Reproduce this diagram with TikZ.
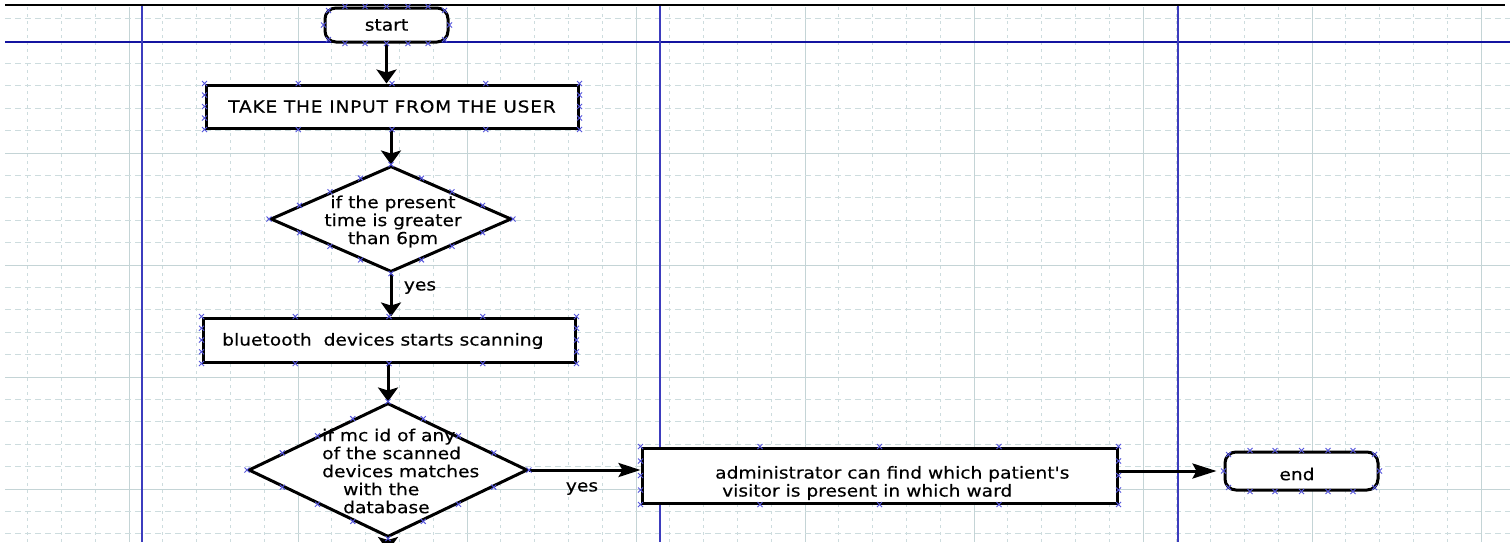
\documentclass[tikz,border=0pt]{standalone}
\usepackage{fontspec}
\usetikzlibrary{shapes.geometric, arrows.meta, calc}
\newfontfamily\flowfont{DejaVu Sans}[FakeStretch=1.13, FakeBold=0.4]

\definecolor{gridsoft}{RGB}{205,220,222}
\definecolor{gridmain}{RGB}{196,212,214}
\definecolor{lanec}{RGB}{60,60,190}
\definecolor{headc}{RGB}{20,20,160}
\definecolor{handlec}{RGB}{85,85,220}

\tikzset{
  every node/.style={font=\flowfont\fontsize{16.5}{18}\selectfont, text=black},
  flowbox/.style={draw=black, line width=3pt, fill=white, rectangle, inner sep=0pt},
  terminal/.style={flowbox, rounded corners=11pt},
  decision/.style={draw=black, line width=3pt, fill=white, diamond, inner sep=0pt},
  lbl/.style={inner sep=0pt},
  flowline/.style={line width=3pt, draw=black},
  varrow/.style={flowline, -{Stealth[length=14pt,width=20pt,inset=3pt]}},
  harrow/.style={flowline, -{Stealth[length=24pt,width=15pt,inset=4pt]}},
  griddash/.style={gridsoft, line width=0.9pt, dash pattern=on 6pt off 4pt},
  gridvdash/.style={gridsoft, line width=0.9pt, dash pattern=on 3pt off 4pt},
  gridsolid/.style={gridmain, line width=1pt},
  laneline/.style={lanec, line width=2.6pt},
  hx/.pic={\draw[handlec, line width=0.9pt] (-2.5pt,-2.5pt)--(2.5pt,2.5pt) (-2.5pt,2.5pt)--(2.5pt,-2.5pt);}
}

% selection handles on the borders of boxes and diamonds
\newcommand\boxhandles[1]{%
  \foreach \ea/\eb in {north west/north east,north east/south east,south east/south west,south west/north west}{%
    \foreach \fr in {0,0.25,0.5,0.75}{\path ($(#1.\ea)!\fr!(#1.\eb)$) pic{hx};}}}
\newcommand\diamondhandles[1]{%
  \foreach \ea/\eb in {north/east,east/south,south/west,west/north}{%
    \foreach \fr in {0,0.25,0.5,0.75}{\path ($(#1.\ea)!\fr!(#1.\eb)$) pic{hx};}}}
\newcommand\termhandles[1]{%
  \foreach \fr in {0.17,0.33,0.5,0.67,0.83}{%
    \path ($(#1.north west)!\fr!(#1.north east)$) pic{hx};
    \path ($(#1.south west)!\fr!(#1.south east)$) pic{hx};}
  \path (#1.west) pic{hx} (#1.east) pic{hx};
  \path ($(#1.north west)+(5,4)$) pic{hx} ($(#1.north east)+(-5,4)$) pic{hx}
        ($(#1.south west)+(5,-4)$) pic{hx} ($(#1.south east)+(-5,-4)$) pic{hx};}

\begin{document}
\begin{tikzpicture}[x=1pt, y=-1pt]
\useasboundingbox (0,0) rectangle (1510,542);
\clip (0,0) rectangle (1510,542);
\fill[white] (0,0) rectangle (1510,542);

% background grid
\foreach \k in {-3,...,40}{
  \pgfmathsetmacro\gx{129+33.8*\k}
  \pgfmathtruncatemacro\gm{mod(\k+100,5)}
  \ifnum\gm=0 \draw[gridsolid] (\gx,7) -- (\gx,542);
  \else \draw[gridvdash] (\gx,7) -- (\gx,542);\fi
}
\foreach \k in {-1,...,22}{
  \pgfmathsetmacro\gy{41+22.4*\k}
  \pgfmathtruncatemacro\gm{mod(\k+100,5)}
  \ifnum\gm=0 \draw[gridsolid] (5,\gy) -- (1510,\gy);
  \else \draw[griddash] (5,\gy) -- (1510,\gy);\fi
}

% swimlane frame
\draw[black, line width=2.4pt] (5,5) -- (1505,5);
\draw[headc, line width=1.6pt] (5,42) -- (1510,42);
\foreach \lx in {142,660,1178}{\draw[laneline] (\lx,6) -- (\lx,542);}

% flow nodes
\node[terminal, minimum width=123pt, minimum height=34pt] (start) at (386.5,25) {start};
\node[flowbox, minimum width=372pt, minimum height=43pt] (take) at (392,106.5) {\addfontfeatures{LetterSpace=4.5}TAKE THE INPUT FROM THE USER};
\node[decision, minimum width=241pt, minimum height=106pt] (d1) at (391,219) {};
\node[lbl, align=center] (d1t) at (393,221.5) {if the present\\time is greater\\than 6pm};
\node[flowbox, minimum width=372pt, minimum height=44pt] (bt) at (389,340) {};
\node[lbl, anchor=west] (btt) at (222,341) {bluetooth\ \ devices starts scanning};
\node[decision, minimum width=279pt, minimum height=134pt] (d2) at (388,470) {};
\node[lbl, align=left, anchor=west] (d2t) at (322,471) {if mc id of any\\of the scanned\\devices matches\\\hspace*{21pt}with the\\\hspace*{21pt}database};
\node[flowbox, minimum width=475pt, minimum height=55pt] (admin) at (879.5,475.5) {};
\node[lbl, align=left, anchor=west] (admint) at (715,483) {administrator can find which patient's\\\hspace*{7pt}visitor is present in which ward};
\node[terminal, minimum width=153pt, minimum height=38pt] (end) at (1301.5,471) {};
\node[lbl] (endt) at (1297,474) {end};
\coordinate (d2out) at (388,551);

% connectors
\draw[varrow] (start) -- (start |- take.north);
\draw[varrow] (d1.north |- take.south) -- (d1.north);
\draw[varrow] (d1.south) -- (d1.south |- bt.north);
\node[lbl] (yes1) at (420,287.5) {yes};
\draw[varrow] (d2.north |- bt.south) -- (d2.north);
\draw[flowline, -{Stealth[length=22pt,width=14pt,inset=4pt]}] (d2.east) -- (d2.east -| admin.west);
\node[lbl] (yes2) at (582,488.5) {yes};
\draw[harrow, shorten >=7pt] (end.west -| admin.east) -- (end.west);
\draw[varrow] (d2.south) -- (d2out);

% handles
\termhandles{start}
\boxhandles{take}
\diamondhandles{d1}
\boxhandles{bt}
\diamondhandles{d2}
\boxhandles{admin}
\termhandles{end}
\end{tikzpicture}
\end{document}
